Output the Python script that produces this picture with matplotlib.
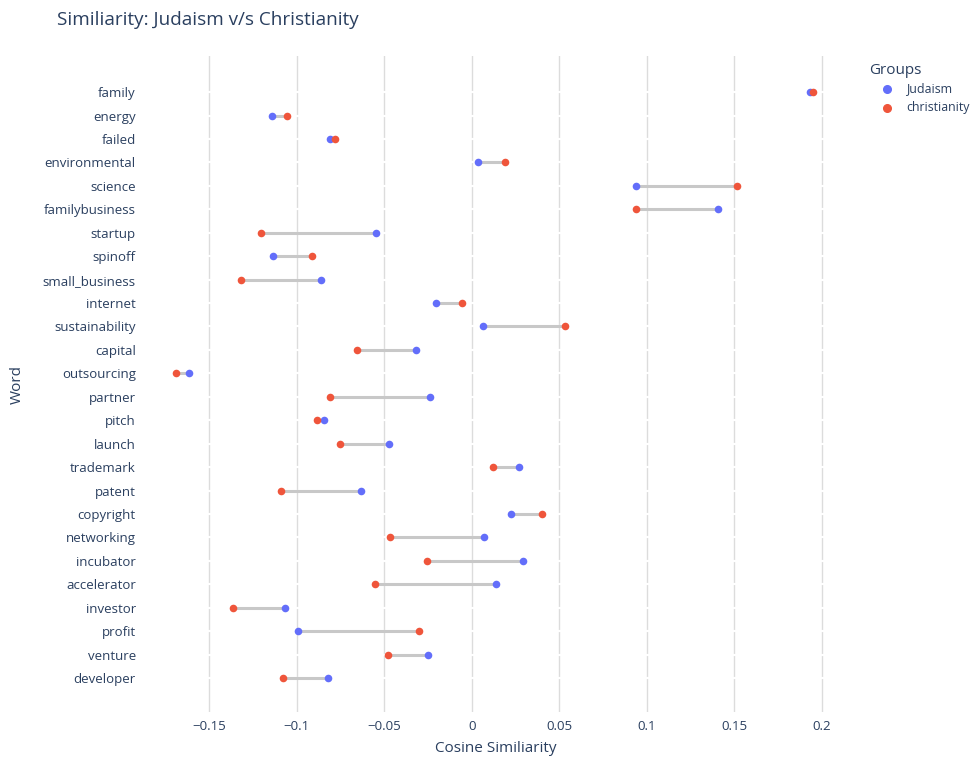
import matplotlib
matplotlib.use("Agg")
import matplotlib.pyplot as plt
from matplotlib.lines import Line2D

plt.rcParams['font.family'] = ['Open Sans', 'DejaVu Sans']

# Words, top to bottom
words = ["family", "energy", "failed", "environmental", "science", "familybusiness",
         "startup", "spinoff", "small_business", "internet", "sustainability", "capital",
         "outsourcing", "partner", "pitch", "launch", "trademark", "patent", "copyright",
         "networking", "incubator", "accelerator", "investor", "profit", "venture",
         "developer"]

# Cosine similarity per word for each group
judaism = [0.1933, -0.1141, -0.0808, 0.0038, 0.0937, 0.1406,
           -0.0549, -0.1134, -0.0859, -0.0204, 0.0063, -0.0316,
           -0.1614, -0.0240, -0.0846, -0.0474, 0.0270, -0.0634, 0.0223,
           0.0072, 0.0291, 0.0137, -0.1069, -0.0994, -0.0248,
           -0.0819]
christianity = [0.1952, -0.1054, -0.0779, 0.0189, 0.1516, 0.0937,
                -0.1206, -0.0911, -0.1317, -0.0054, 0.0533, -0.0655,
                -0.1691, -0.0808, -0.0882, -0.0753, 0.0120, -0.1088, 0.0400,
                -0.0467, -0.0257, -0.0553, -0.1362, -0.0299, -0.0480,
                -0.1078]

groups = ["Judaism", "christianity"]

xticks = [-0.15, -0.1, -0.05, 0, 0.05, 0.1, 0.15, 0.2]
xticklabels = ["\u22120.15", "\u22120.1", "\u22120.05", "0", "0.05", "0.1", "0.15", "0.2"]

TEXT = "#2a3f5f"
BLUE = "#636efa"
RED = "#ef553b"
colors = [BLUE, RED]

W, H = 973, 759
fig = plt.figure(figsize=(W / 100, H / 100), dpi=100)
left, right, top, bottom = 140, 852, 56, 712
ax = fig.add_axes([left / W, 1 - bottom / H, (right - left) / W, (bottom - top) / H])

ys = list(range(len(words)))

# vertical grid
for t in xticks:
    ax.axvline(t, color="#dcdcdc", lw=1.0, zorder=0)
# white horizontal grid over it at each category
for y in ys:
    ax.axhline(y, color="white", lw=1.6, zorder=1)

# connectors
for y, a, b in zip(ys, judaism, christianity):
    ax.plot([a, b], [y, y], color="#c8c8c8", lw=2.2, zorder=2, solid_capstyle="butt")

ax.scatter(judaism, ys, s=30, color=BLUE, zorder=3, linewidths=0)
ax.scatter(christianity, ys, s=30, color=RED, zorder=4, linewidths=0)

ax.set_xlim(-0.1895, 0.2173)
ax.set_ylim(len(words) - 1 + 1.45, -1.54)

ax.set_yticks(ys)
ax.set_yticklabels(words)
ax.set_xticks(xticks)
ax.set_xticklabels(xticklabels)
ax.tick_params(axis="y", length=0, pad=3, labelsize=9.5, labelcolor=TEXT)
ax.tick_params(axis="x", length=0, pad=6, labelsize=9.5, labelcolor=TEXT)
for s in ax.spines.values():
    s.set_visible(False)

fig.text(496 / W, 1 - 748 / H, "Cosine Similiarity", fontsize=11, color=TEXT,
         ha="center", va="center")
fig.text(17 / W, 1 - 385 / H, "Word", rotation=90, fontsize=11, color=TEXT,
         ha="center", va="center")

fig.text(57 / W, 1 - 20 / H, "Similiarity: Judaism v/s Christianity", fontsize=13.6,
         color=TEXT, ha="left", va="center")

# legend
fig.text(869 / W, 1 - 70 / H, "Groups", fontsize=11, color=TEXT, ha="left", va="center")
for i, (g, c) in enumerate(zip(groups, colors)):
    yy = 1 - (89 + 18.5 * i) / H
    fig.add_artist(Line2D([887 / W], [yy], transform=fig.transFigure, marker="o",
                          ls="none", color=c, markersize=5.5))
    fig.text(906 / W, yy, g, fontsize=8.9, color=TEXT, ha="left", va="center")

fig.savefig("out.png", dpi=100)
